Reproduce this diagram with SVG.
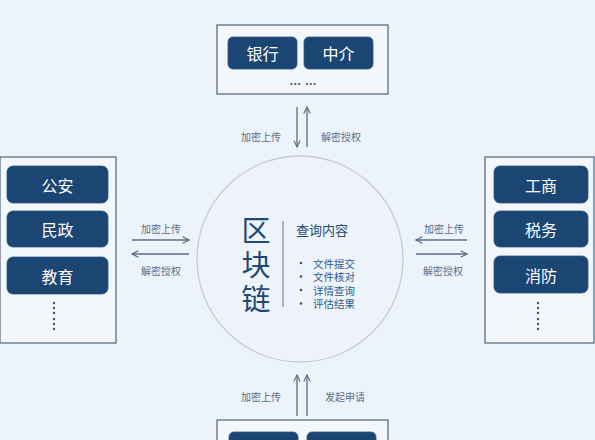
<svg xmlns="http://www.w3.org/2000/svg" width="595" height="440" viewBox="0 0 595 440">
<defs>
<style>
.bg{fill:#edf3fa}
.box{fill:#f3f7fc;stroke:#5d6f84;stroke-width:1.3}
.btn{fill:#1b4573;stroke:#2c5684;stroke-width:0.8}
.bt{font-family:"Noto Sans CJK SC","Noto Sans",sans-serif;font-size:16px;fill:#ffffff;text-anchor:middle;dominant-baseline:central}
.lbl{font-family:"Noto Sans CJK SC","Noto Sans",sans-serif;font-size:10px;fill:#5a6d82;text-anchor:middle;dominant-baseline:central}
.ln{stroke:#5a6d82;stroke-width:1.3;fill:none}
.dots{font-family:"Liberation Sans",sans-serif;font-size:12px;fill:#3f5470;text-anchor:middle;font-weight:bold}
.big{font-family:"Noto Sans CJK SC",sans-serif;font-size:29px;fill:#1f4a75;writing-mode:vertical-rl;letter-spacing:5px}
.it{font-family:"Noto Sans CJK SC",sans-serif;font-size:10.5px;fill:#2c5b8c;dominant-baseline:central}
.hd{font-family:"Noto Sans CJK SC",sans-serif;font-size:13px;fill:#2a4b70;dominant-baseline:central}
</style>
<marker id="ah" viewBox="0 0 10 10" refX="9" refY="5" markerWidth="8" markerHeight="8" orient="auto-start-reverse" markerUnits="userSpaceOnUse">
<path d="M1,1 L9,5 L1,9" fill="none" stroke="#5a6d82" stroke-width="1.4"/>
</marker>
</defs>
<rect class="bg" x="0" y="0" width="595" height="440"/>

<g id="top">
<rect class="box" x="217" y="25" width="171" height="69"/>
<rect class="btn" x="228" y="37" width="69" height="32" rx="5"/>
<text class="bt" x="262.5" y="53">银行</text>
<rect class="btn" x="304" y="37" width="69" height="32" rx="5"/>
<text class="bt" x="338.5" y="53">中介</text>
<text class="dots" x="303" y="85">… …</text>
</g>

<g id="left">
<rect class="box" x="0" y="157" width="116" height="186"/>
<rect class="btn" x="7" y="166" width="101" height="37" rx="6"/>
<text class="bt" x="57.5" y="184.5">公安</text>
<rect class="btn" x="7" y="211" width="101" height="36" rx="6"/>
<text class="bt" x="57.5" y="229">民政</text>
<rect class="btn" x="7" y="257" width="101" height="37" rx="6"/>
<text class="bt" x="57.5" y="275.5">教育</text>
<g fill="#3f5470">
<circle cx="54" cy="303" r="1.2"/><circle cx="54" cy="308" r="1.2"/><circle cx="54" cy="313" r="1.2"/>
<circle cx="54" cy="319" r="1.2"/><circle cx="54" cy="324" r="1.2"/><circle cx="54" cy="329" r="1.2"/>
</g>
</g>

<g id="right">
<rect class="box" x="485" y="157" width="109" height="186"/>
<rect class="btn" x="494" y="166" width="94" height="37" rx="6"/>
<text class="bt" x="541" y="184.5">工商</text>
<rect class="btn" x="494" y="211" width="94" height="36" rx="6"/>
<text class="bt" x="541" y="229">税务</text>
<rect class="btn" x="494" y="256" width="94" height="37" rx="6"/>
<text class="bt" x="541" y="274.5">消防</text>
<g fill="#3f5470">
<circle cx="538" cy="303" r="1.2"/><circle cx="538" cy="308" r="1.2"/><circle cx="538" cy="313" r="1.2"/>
<circle cx="538" cy="319" r="1.2"/><circle cx="538" cy="324" r="1.2"/><circle cx="538" cy="329" r="1.2"/>
</g>
</g>

<g id="bottom">
<rect class="box" x="217" y="420" width="171" height="30"/>
<rect class="btn" x="229" y="432" width="69" height="20" rx="5"/>
<rect class="btn" x="307" y="432" width="69" height="20" rx="5"/>
</g>

<g id="center">
<circle cx="300" cy="259" r="103" fill="#eef3f9" stroke="#c3ccd7" stroke-width="1.3"/>
<text class="big" x="256" y="216">区块链</text>
<line x1="283" y1="221" x2="283" y2="307" stroke="#7d8a99" stroke-width="1.2"/>
<text class="hd" x="296" y="229">查询内容</text>
<g fill="#3a5878">
<circle cx="301" cy="263" r="1.3"/><circle cx="301" cy="276.5" r="1.3"/><circle cx="301" cy="290" r="1.3"/><circle cx="301" cy="303.5" r="1.3"/>
</g>
<text class="it" x="313" y="263">文件提交</text>
<text class="it" x="313" y="276.5">文件核对</text>
<text class="it" x="313" y="290">详情查询</text>
<text class="it" x="313" y="303.5">评估结果</text>
</g>

<g id="connectors">
<line class="ln" x1="297" y1="107" x2="297" y2="147" marker-end="url(#ah)"/>
<line class="ln" x1="307" y1="147" x2="307" y2="107" marker-end="url(#ah)"/>
<text class="lbl" x="261" y="136">加密上传</text>
<text class="lbl" x="341" y="136">解密授权</text>

<line class="ln" x1="132" y1="240" x2="189" y2="240" marker-end="url(#ah)"/>
<line class="ln" x1="189" y1="254" x2="132" y2="254" marker-end="url(#ah)"/>
<text class="lbl" x="161" y="228">加密上传</text>
<text class="lbl" x="161" y="270">解密授权</text>

<line class="ln" x1="467" y1="240" x2="416" y2="240" marker-end="url(#ah)"/>
<line class="ln" x1="416" y1="254" x2="467" y2="254" marker-end="url(#ah)"/>
<text class="lbl" x="444" y="228">加密上传</text>
<text class="lbl" x="443" y="270">解密授权</text>

<line class="ln" x1="297" y1="416" x2="297" y2="375" marker-end="url(#ah)"/>
<line class="ln" x1="307" y1="416" x2="307" y2="375" marker-end="url(#ah)"/>
<text class="lbl" x="261" y="396">加密上传</text>
<text class="lbl" x="345" y="396">发起申请</text>
</g>
</svg>
